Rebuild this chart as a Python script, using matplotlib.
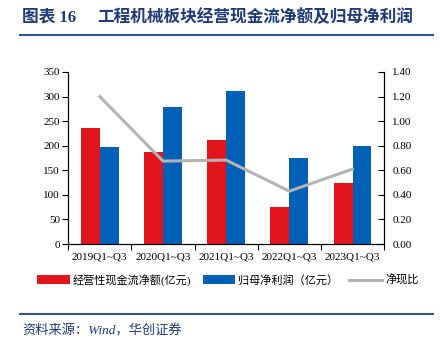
import numpy as np
import matplotlib.pyplot as plt
from matplotlib.lines import Line2D

plt.rcParams['font.family'] = ['Liberation Serif', 'Noto Sans CJK SC', 'DejaVu Sans']

# data
periods = ['2019Q1~Q3', '2020Q1~Q3', '2021Q1~Q3', '2022Q1~Q3', '2023Q1~Q3']
op_cash = [236, 188, 212, 76, 124]       # 经营性现金流净额(亿元)
net_profit = [197, 278, 311, 175, 200]   # 归母净利润（亿元）
cash_ratio = [1.20, 0.675, 0.683, 0.43, 0.61]  # 净现比

red = '#E3151C'
blue = '#0060B6'
gray = '#B4B4B4'
navy = '#1F3A78'

fig = plt.figure(figsize=(4.4, 3.38), dpi=100)
ax = fig.add_axes([0.155, 0.278, 0.718, 0.509])
ax2 = ax.twinx()

x = np.arange(len(periods))
w = 0.30
ax.bar(x - w / 2, op_cash, w, color=red, label='经营性现金流净额(亿元)', zorder=2)
ax.bar(x + w / 2, net_profit, w, color=blue, label='归母净利润（亿元）', zorder=2)
ax2.plot(x, cash_ratio, color=gray, lw=2.2, label='净现比', zorder=3)

ax.set_xlim(-0.5, len(periods) - 0.5)
ax.set_ylim(0, 350)
ax.set_yticks(np.arange(0, 351, 50))
ax2.set_ylim(0, 1.4)
ax2.set_yticks(np.arange(0, 1.41, 0.2))
ax2.set_yticklabels([f'{v:.2f}' for v in np.arange(0, 1.41, 0.2)])

# category boundaries as ticks, labels centred between them
ax.set_xticks(np.arange(-0.5, len(periods), 1.0))
ax.set_xticklabels([])
ax.set_xticks(x, minor=True)
ax.set_xticklabels(periods, minor=True)
ax.tick_params(axis='x', which='major', length=4, width=0.8, direction='out')
ax.tick_params(axis='x', which='minor', length=0, labelsize=8, pad=6)
ax.tick_params(axis='y', length=4, width=0.8, direction='out', labelsize=8, pad=2)
ax2.tick_params(axis='y', length=4, width=0.8, direction='in', labelsize=8, pad=6)

for a in (ax, ax2):
    a.spines['top'].set_visible(False)
    for s in ('left', 'right', 'bottom'):
        a.spines[s].set_linewidth(0.8)
        a.spines[s].set_color('black')
ax2.set_zorder(ax.get_zorder() + 1)
ax2.patch.set_visible(False)

handles = ax.get_legend_handles_labels()[0] + [Line2D([], [], color=gray, lw=2.2)]
labels = ['经营性现金流净额(亿元)', '归母净利润（亿元）', '净现比']
fig.legend(handles, labels, loc='center', bbox_to_anchor=(0.518, 0.172), ncol=3,
           frameon=False, fontsize=8, handlelength=2.9, handleheight=0.8,
           handletextpad=0.3, columnspacing=1.0)

# title and source with rule lines
fig.text(0.05, 0.948, '图表 16', fontsize=12, fontweight='bold', color=navy,
         va='center', ha='left')
fig.text(0.222, 0.948, '工程机械板块经营现金流净额及归母净利润',
         fontsize=12, fontweight='bold', color=navy, va='center', ha='left')
fig.add_artist(Line2D([0.045, 0.984], [0.897, 0.897], color='#2F5597', lw=1.5))
fig.add_artist(Line2D([0.045, 0.984], [0.071, 0.071], color='#2F5597', lw=1.5))
fig.text(0.05, 0.022, '资料来源：Wind，华创证券', fontsize=9.5, style='italic',
         color=navy, va='center', ha='left')

fig.savefig('out.png', dpi=100)
